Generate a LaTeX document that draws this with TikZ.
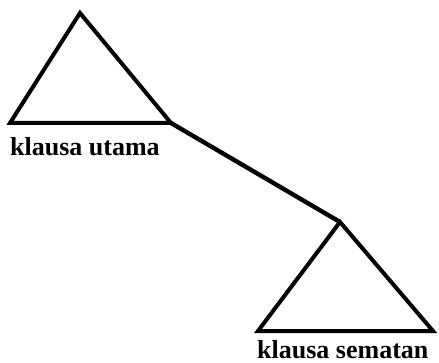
\documentclass[tikz,border=0pt]{standalone}
\usepackage{fontspec}
\setmainfont{Liberation Serif}
\usetikzlibrary{positioning}

\begin{document}
\begin{tikzpicture}[x=1pt, y=-1pt,
  tri/.style={line width=4pt, line join=miter},
  link/.style={line width=4.4pt},
  lbl/.style={font=\bfseries\fontsize{26}{30}\selectfont, inner sep=0pt, anchor=base west}
]
\useasboundingbox (0,0) rectangle (439,363);
% main clause
\coordinate (utop) at (80,13);
\coordinate (uleft) at (10,123);
\coordinate (uright) at (171,123);
% embedded clause
\coordinate (stop) at (340,222);
\coordinate (sleft) at (258,331);
\coordinate (sright) at (433,331);

\draw[tri] (utop) -- (uleft) -- (uright) -- cycle;
\draw[tri] (stop) -- (sleft) -- (sright) -- cycle;
\draw[link] (uright) -- (stop);

\node[lbl] (utama) at (10,156) {klausa utama};
\node[lbl] (sematan) at (257,358) {klausa sematan};
\end{tikzpicture}
\end{document}
